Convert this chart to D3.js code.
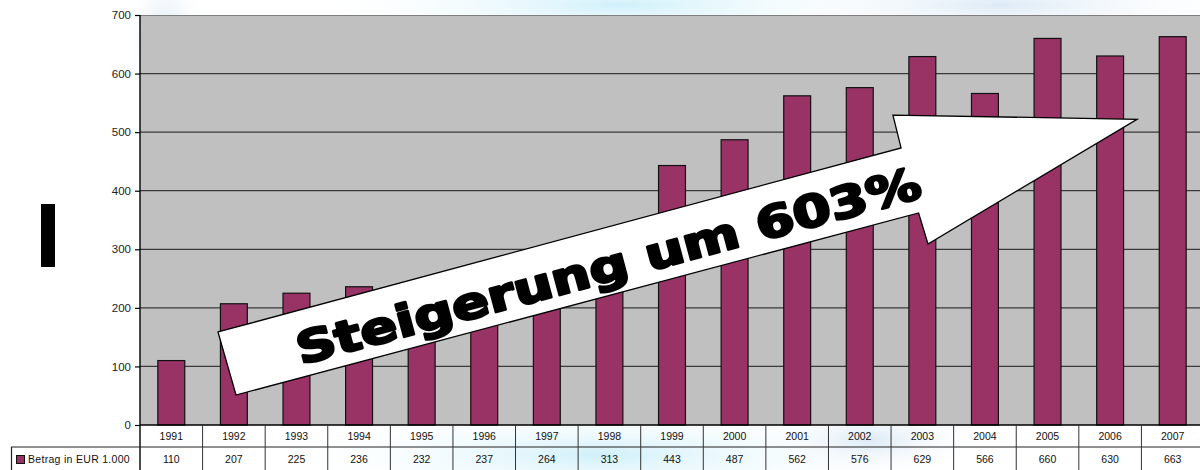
<!DOCTYPE html>
<html><head><meta charset="utf-8">
<script src="https://cdn.jsdelivr.net/npm/d3@7"></script>
<style>html,body{margin:0;padding:0;background:#fff;overflow:hidden}</style>
</head><body>
<script>
const years = ["1991","1992","1993","1994","1995","1996","1997","1998","1999","2000","2001","2002","2003","2004","2005","2006","2007"];
const values = [110,207,225,236,232,237,264,313,443,487,562,576,629,566,660,630,663];
const yTicks = [0,100,200,300,400,500,600,700];
const seriesName = "Betrag in EUR 1.000";
const annotationText = "Steigerung um 603%";
// arrow outline in data space: [category index position, value]
const arrowPts = [[1.246,158.8],[12.16,473],[12.03,529],[15.93,522],[12.59,309],[12.44,362],[1.534,51.2]];

const W = 1200, H = 470;
const pLeft = 140, pRight = 1204, pTop = 15, pBottom = 425;
const svg = d3.select("body").append("svg").attr("width", W).attr("height", H);
const defs = svg.append("defs");
const g1 = defs.append("radialGradient").attr("id","blue");
g1.append("stop").attr("offset","0%").attr("stop-color","#cdeffa").attr("stop-opacity",0.95);
g1.append("stop").attr("offset","100%").attr("stop-color","#ffffff").attr("stop-opacity",0);
const g2 = defs.append("radialGradient").attr("id","blue2");
g2.append("stop").attr("offset","0%").attr("stop-color","#d9e8f5").attr("stop-opacity",0.9);
g2.append("stop").attr("offset","100%").attr("stop-color","#ffffff").attr("stop-opacity",0);

// background splash approximation
const bg = svg.append("g");
bg.append("rect").attr("width",W).attr("height",H).attr("fill","#fff");
bg.append("ellipse").attr("cx",620).attr("cy",5).attr("rx",320).attr("ry",40).attr("fill","url(#blue)");
bg.append("ellipse").attr("cx",1000).attr("cy",5).attr("rx",260).attr("ry",35).attr("fill","url(#blue2)");
bg.append("ellipse").attr("cx",165).attr("cy",40).attr("rx",45).attr("ry",90).attr("fill","url(#blue2)");
bg.append("ellipse").attr("cx",600).attr("cy",455).attr("rx",330).attr("ry",50).attr("fill","url(#blue)");
bg.append("ellipse").attr("cx",870).attr("cy",440).attr("rx",120).attr("ry",40).attr("fill","url(#blue2)");

const x = d3.scaleBand().domain(years).range([pLeft, pRight]).paddingInner(0).paddingOuter(0);
const xi = d3.scaleLinear().domain([0, years.length]).range([pLeft, pRight]);
const y = d3.scaleLinear().domain([0, 700]).range([pBottom, pTop]);
const bw = x.bandwidth();
const barW = bw * 0.43;

// plot area
svg.append("rect").attr("x", pLeft).attr("y", pTop).attr("width", pRight-pLeft).attr("height", pBottom-pTop).attr("fill","#c0c0c0");
svg.append("line").attr("x1",pLeft).attr("x2",pRight).attr("y1",pTop+0.5).attr("y2",pTop+0.5).attr("stroke","#7f7f7f").attr("stroke-width",1.2);

// gridlines
svg.append("g").selectAll("line").data(yTicks.filter(t => t>0 && t<700)).join("line")
  .attr("x1", pLeft).attr("x2", pRight).attr("y1", d=>y(d)).attr("y2", d=>y(d))
  .attr("stroke","#3a3a3a").attr("stroke-width",1.3);

// bars
svg.append("g").selectAll("rect").data(values).join("rect")
  .attr("x",(d,i)=>x(years[i]) + (bw-barW)/2)
  .attr("y",d=>y(d))
  .attr("width",barW)
  .attr("height",d=>y(0)-y(d))
  .attr("fill","#993366").attr("stroke","#111").attr("stroke-width",1.2);

// y axis
const yAxis = d3.axisLeft(y).tickValues(yTicks).tickSize(5).tickPadding(4);
const ya = svg.append("g").attr("transform",`translate(${pLeft},0)`).call(yAxis);
ya.select(".domain").remove();
ya.selectAll(".tick line").attr("stroke","#000").attr("stroke-width",1.2);
ya.selectAll(".tick text").attr("font-family","'Liberation Sans', Arial, sans-serif").attr("font-size","11.5px").attr("fill","#222");
svg.append("line").attr("x1",pLeft).attr("x2",pLeft).attr("y1",pTop).attr("y2",H).attr("stroke","#000").attr("stroke-width",1.4);

// data table
const tbl = svg.append("g");
const row1 = 447;
tbl.append("line").attr("x1",pLeft).attr("x2",pRight).attr("y1",pBottom).attr("y2",pBottom).attr("stroke","#000").attr("stroke-width",1.4);
tbl.append("line").attr("x1",11).attr("x2",pRight).attr("y1",row1).attr("y2",row1).attr("stroke","#222").attr("stroke-width",1.2);
tbl.append("line").attr("x1",11.5).attr("x2",11.5).attr("y1",row1).attr("y2",H).attr("stroke","#222").attr("stroke-width",1.2);
tbl.selectAll("line.v").data(years.slice(1)).join("line").attr("class","v")
  .attr("x1",d=>x(d)).attr("x2",d=>x(d)).attr("y1",pBottom).attr("y2",H)
  .attr("stroke","#333").attr("stroke-width",1);
tbl.selectAll("text.yr").data(years).join("text").attr("class","yr")
  .attr("x",d=>x(d)+bw/2).attr("y",(pBottom+row1)/2+4)
  .attr("text-anchor","middle").attr("font-family","'Liberation Sans', Arial, sans-serif").attr("font-size","10.5px").attr("fill","#111")
  .text(d=>d);
tbl.selectAll("text.val").data(values).join("text").attr("class","val")
  .attr("x",(d,i)=>x(years[i])+bw/2).attr("y",(row1+H)/2+4)
  .attr("text-anchor","middle").attr("font-family","'Liberation Sans', Arial, sans-serif").attr("font-size","10.5px").attr("fill","#111")
  .text(d=>d);
tbl.append("rect").attr("x",16.5).attr("y",455.5).attr("width",8).attr("height",8).attr("fill","#993366").attr("stroke","#111").attr("stroke-width",1);
tbl.append("text").attr("x",28).attr("y",463).attr("font-family","'Liberation Sans', Arial, sans-serif").attr("font-size","10.5px")
  .attr("letter-spacing","0.3px").attr("fill","#111").text(seriesName);

// black bar at left
svg.append("rect").attr("x",41).attr("y",204).attr("width",14).attr("height",63).attr("fill","#000");

// annotation arrow
const line = d3.line().x(d=>xi(d[0])).y(d=>y(d[1]));
svg.append("path").attr("d", line(arrowPts) + "Z").attr("fill","#fff").attr("stroke","#000").attr("stroke-width",1.3).attr("stroke-linejoin","miter");
const ang = Math.atan2(y(473)-y(158.8), xi(12.16)-xi(1.246)) * 180/Math.PI;
const rad = ang * Math.PI / 180;
const cx = (xi(1.246)+xi(12.44))/2 + 12 + 29*Math.cos(rad), cy = (y(158.8)+y(362))/2 + 1 + 29*Math.sin(rad);
svg.append("text").attr("transform",`translate(${cx},${cy}) rotate(${ang})`)
  .attr("text-anchor","middle").attr("dominant-baseline","central")
  .attr("font-family","'DejaVu Sans', sans-serif").attr("font-weight","900").attr("font-size","44px")
  .attr("textLength",645).attr("lengthAdjust","spacingAndGlyphs")
  .attr("fill","#000").attr("stroke","#000").attr("stroke-width",2.6).attr("stroke-linejoin","round")
  .text(annotationText);
</script>
</body></html>
